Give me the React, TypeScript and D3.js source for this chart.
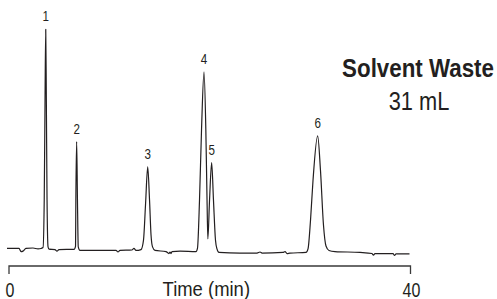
import React from "react";
import * as d3 from "d3";

// Chromatogram trace: time (min) and detector signal (relative units)
const traceTime = [
  -0.2, 1.0, 1.2, 1.39, 1.69, 2.39, 2.89, 3.19, 3.39, 3.51, 3.59, 3.66, 3.72, 3.79, 3.89, 3.99,
  4.58, 4.78, 4.98, 6.48, 6.63, 6.66, 6.74, 6.82, 6.9, 7.07, 9.07, 10.66, 10.86, 11.06, 12.25,
  12.45, 12.65, 13.15, 13.4, 13.6, 13.82, 14.0, 14.15, 14.3, 14.55, 15.64, 15.94, 16.04, 16.14,
  16.24, 17.04, 18.63, 18.78, 18.98, 19.18, 19.43, 19.61, 19.73, 19.81, 19.98, 20.19, 20.37,
  20.57, 20.72, 20.92, 23.01, 24.71, 25.01, 25.21, 27.3, 27.5, 27.7, 27.99, 29.59, 29.79, 30.04,
  30.29, 30.75, 31.03, 31.33, 31.58, 31.88, 32.48, 34.97, 36.16, 36.31, 36.46, 38.26, 38.41,
  38.56, 39.9,
];
const traceSignal = [
  0.7, 0.7, -0.7, -0.5, 0.7, 0.9, 0.5, 0.7, 1.1, 22.7, 68.0, 100, 68.0, 22.7, 1.4, 0.4,
  0.2, -0.5, 0.2, 0.3, 1.8, 22.7, 49.1, 22.7, 1.4, -0.2, -0.2, -0.2, -0.9, -0.2, 0,
  0.7, -0.2, 0.2, 4.5, 20.4, 37.7, 22.7, 6.8, 1.4, -0.2, -0.7, -1.6, -0.9, -1.6,
  -0.7, -0.5, -0.7, 0.9, 22.7, 54.4, 80.7, 54.4, 22.7, 5.0, 22.7, 39.6, 22.7,
  4.5, 0.5, -1.1, -1.4, -1.4, -0.9, -1.4, -1.1, -0.7, -1.6, -1.4, -1.1, 0.5, 13.6,
  31.7, 51.7, 36.2, 11.3, 1.8, -0.2, -0.7, -1.1, -1.6, -2.3, -1.6, -1.6, -2.5,
  -1.8, -1.8,
];

// Peak annotations
const peakLabels = ["1", "2", "3", "4", "5", "6"];
const peakTimes = [3.66, 6.74, 13.82, 19.43, 20.19, 30.75];
const peakHeights = [100, 49.1, 37.7, 80.7, 39.6, 51.7];

const axisTicks = [0, 40];
const axisTitle = "Time (min)";
const annotationTitle = "Solvent Waste";
const annotationValue = "31 mL";

const W = 497;
const H = 299;
const INK = "#231f20";
const FONT = "'Liberation Sans', Arial, sans-serif";

function CText(props: {
  x: number;
  y: number;
  size: number;
  sx?: number;
  anchor?: string;
  bold?: boolean;
  children: React.ReactNode;
}) {
  const { x, y, size, sx = 0.8, anchor = "middle", bold = false, children } = props;
  return (
    <text
      transform={`translate(${x},${y}) scale(${sx},1)`}
      textAnchor={anchor}
      fontFamily={FONT}
      fontWeight={bold ? "bold" : "normal"}
      fontSize={size}
      fill={INK}
    >
      {children}
    </text>
  );
}

export default function App() {
  const x = d3.scaleLinear().domain([0, 40]).range([9, 410.5]);
  const y = d3.scaleLinear().domain([0, 100]).range([250, 29.3]);

  const pts: [number, number][] = traceTime.map((t, i) => [t, traceSignal[i]]);
  const line = d3
    .line<[number, number]>()
    .x((d) => x(d[0]))
    .y((d) => y(d[1]))
    .curve(d3.curveMonotoneX);

  const axisY = 266;
  const tickLen = 8;

  return (
    <svg
      width={W}
      height={H}
      style={{ position: "absolute", left: 0, top: 0, background: "#fff" }}
    >
      <path d={line(pts) || ""} fill="none" stroke={INK} strokeWidth={1.2} strokeLinejoin="round" />

      {peakLabels.map((lab, i) => (
        <CText key={lab} x={x(peakTimes[i])} y={y(peakHeights[i]) - 8} size={14.5}>
          {lab}
        </CText>
      ))}

      {/* axis */}
      <path
        d={`M${x(0)},${axisY + tickLen}V${axisY}H${x(40)}V${axisY + tickLen}`}
        fill="none"
        stroke="#3a3a3a"
        strokeWidth={1.3}
      />
      {axisTicks.map((t) => (
        <CText key={t} x={x(t) + 1} y={296.5} size={20}>
          {t}
        </CText>
      ))}
      <CText x={206.3} y={295.5} size={20.5} sx={0.9}>
        {axisTitle}
      </CText>

      <CText x={494} y={76.5} size={26} sx={0.86} anchor="end" bold>
        {annotationTitle}
      </CText>
      <CText x={419} y={109.5} size={26} sx={0.84}>
        {annotationValue}
      </CText>
    </svg>
  );
}
